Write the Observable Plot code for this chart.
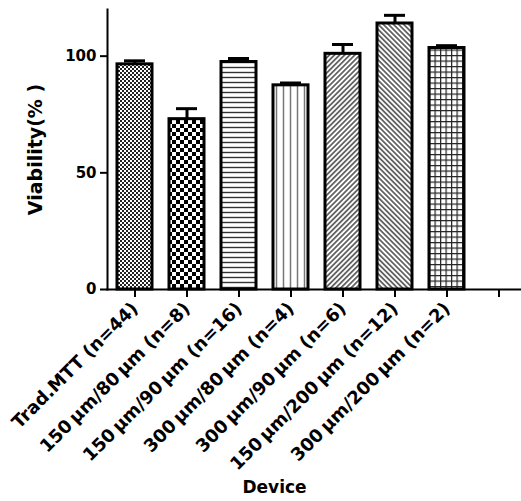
<!DOCTYPE html>
<html>
<head>
<meta charset="utf-8">
<script src="https://cdn.jsdelivr.net/npm/d3@7"></script>
<script src="https://cdn.jsdelivr.net/npm/@observablehq/plot@0.6"></script>
<style>
  html, body { margin: 0; padding: 0; background: white; }
</style>
</head>
<body>
<div id="chart"></div>
<script>
const categories = [
  "Trad.MTT (n=44)",
  "150\u2009µm/80\u2009µm (n=8)",
  "150\u2009µm/90\u2009µm (n=16)",
  "300\u2009µm/80\u2009µm (n=4)",
  "300\u2009µm/90\u2009µm (n=6)",
  "150\u2009µm/200\u2009µm (n=12)",
  "300\u2009µm/200\u2009µm (n=2)"
];
const values = [96.5, 73, 97.5, 87.5, 101, 114, 103.5];
const errors = [1.5, 4.5, 1.5, 1, 4, 3.5, 1];
const yTicks = [0, 50, 100];
const fills = ["url(#p0)", "url(#p1)", "url(#p2)", "url(#p3)", "url(#p4)", "url(#p5)", "url(#p6)"];

const data = categories.map((c, i) => ({device: c, value: values[i], err: errors[i], fill: fills[i]}));

const svg = Plot.plot({
  width: 521,
  height: 501,
  marginTop: 9,
  marginBottom: 212,
  marginLeft: 107,
  marginRight: 0,
  style: {fontFamily: "DejaVu Sans", fontWeight: "bold", fontSize: "15px", color: "black", background: "white"},
  x: {domain: [...categories, " "], range: [107, 526], paddingInner: 0.32, paddingOuter: 0.113, label: null},
  y: {domain: [0, 120], label: null},
  color: {type: "identity"},
  marks: [
    Plot.barY(data, {x: "device", y: "value", fill: "fill", stroke: "black", strokeWidth: 3}),
    Plot.ruleX(data, {x: "device", y1: "value", y2: d => d.value + d.err, stroke: "black", strokeWidth: 3}),
    Plot.tickY(data, {x: "device", y: d => d.value + d.err, stroke: "black", strokeWidth: 3, insetLeft: 7, insetRight: 7}),
    Plot.axisY({ticks: yTicks, tickSize: 7, tickPadding: 4, strokeWidth: 2, fontSize: 15, label: null}),
    Plot.axisX({tickSize: 8, tickRotate: -45, tickPadding: 8, strokeWidth: 2, fontSize: 18, label: null}),
    Plot.frame({anchor: "left", strokeWidth: 2}),
    Plot.frame({anchor: "bottom", strokeWidth: 2}),
    Plot.text(["Viability(% )"], {text: d => d, frameAnchor: "left", textAnchor: "middle", rotate: -90, dx: -72, fontSize: 19}),
    Plot.text(["Device"], {text: d => d, frameAnchor: "bottom", dx: -40, dy: 203, fontSize: 17})
  ]
});

const defs = d3.select(svg).insert("defs", ":first-child");
function pat(id, w, h, transform) {
  const p = defs.append("pattern").attr("id", id).attr("patternUnits", "userSpaceOnUse")
    .attr("width", w).attr("height", h);
  if (transform) p.attr("patternTransform", transform);
  p.append("rect").attr("width", w).attr("height", h).attr("fill", "white");
  return p;
}
// fine checker
let p = pat("p0", 4, 4);
p.append("rect").attr("x", 0).attr("y", 0).attr("width", 2).attr("height", 2).attr("fill", "#222");
p.append("rect").attr("x", 2).attr("y", 2).attr("width", 2).attr("height", 2).attr("fill", "#222");
// coarse checker
p = pat("p1", 8, 8);
p.append("rect").attr("x", 0).attr("y", 0).attr("width", 4).attr("height", 4).attr("fill", "black");
p.append("rect").attr("x", 4).attr("y", 4).attr("width", 4).attr("height", 4).attr("fill", "black");
// horizontal lines
p = pat("p2", 5, 5);
p.append("line").attr("x1", 0).attr("x2", 5).attr("y1", 2.5).attr("y2", 2.5).attr("stroke", "#333").attr("stroke-width", 1.4);
// vertical lines
p = pat("p3", 7, 7);
p.append("line").attr("y1", 0).attr("y2", 7).attr("x1", 3.5).attr("x2", 3.5).attr("stroke", "#777").attr("stroke-width", 1.5);
// diagonal /
p = pat("p4", 3.6, 3.6, "rotate(45)");
p.append("line").attr("y1", 0).attr("y2", 3.6).attr("x1", 1.8).attr("x2", 1.8).attr("stroke", "#444").attr("stroke-width", 1.5);
// diagonal \
p = pat("p5", 3.6, 3.6, "rotate(-45)");
p.append("line").attr("y1", 0).attr("y2", 3.6).attr("x1", 1.8).attr("x2", 1.8).attr("stroke", "#444").attr("stroke-width", 1.5);
// grid
p = pat("p6", 5.5, 5.5);
p.append("line").attr("x1", 0).attr("x2", 5.5).attr("y1", 0.6).attr("y2", 0.6).attr("stroke", "#222").attr("stroke-width", 1.2);
p.append("line").attr("y1", 0).attr("y2", 5.5).attr("x1", 0.6).attr("x2", 0.6).attr("stroke", "#222").attr("stroke-width", 1.2);

document.getElementById("chart").appendChild(svg);
</script>
</body>
</html>
